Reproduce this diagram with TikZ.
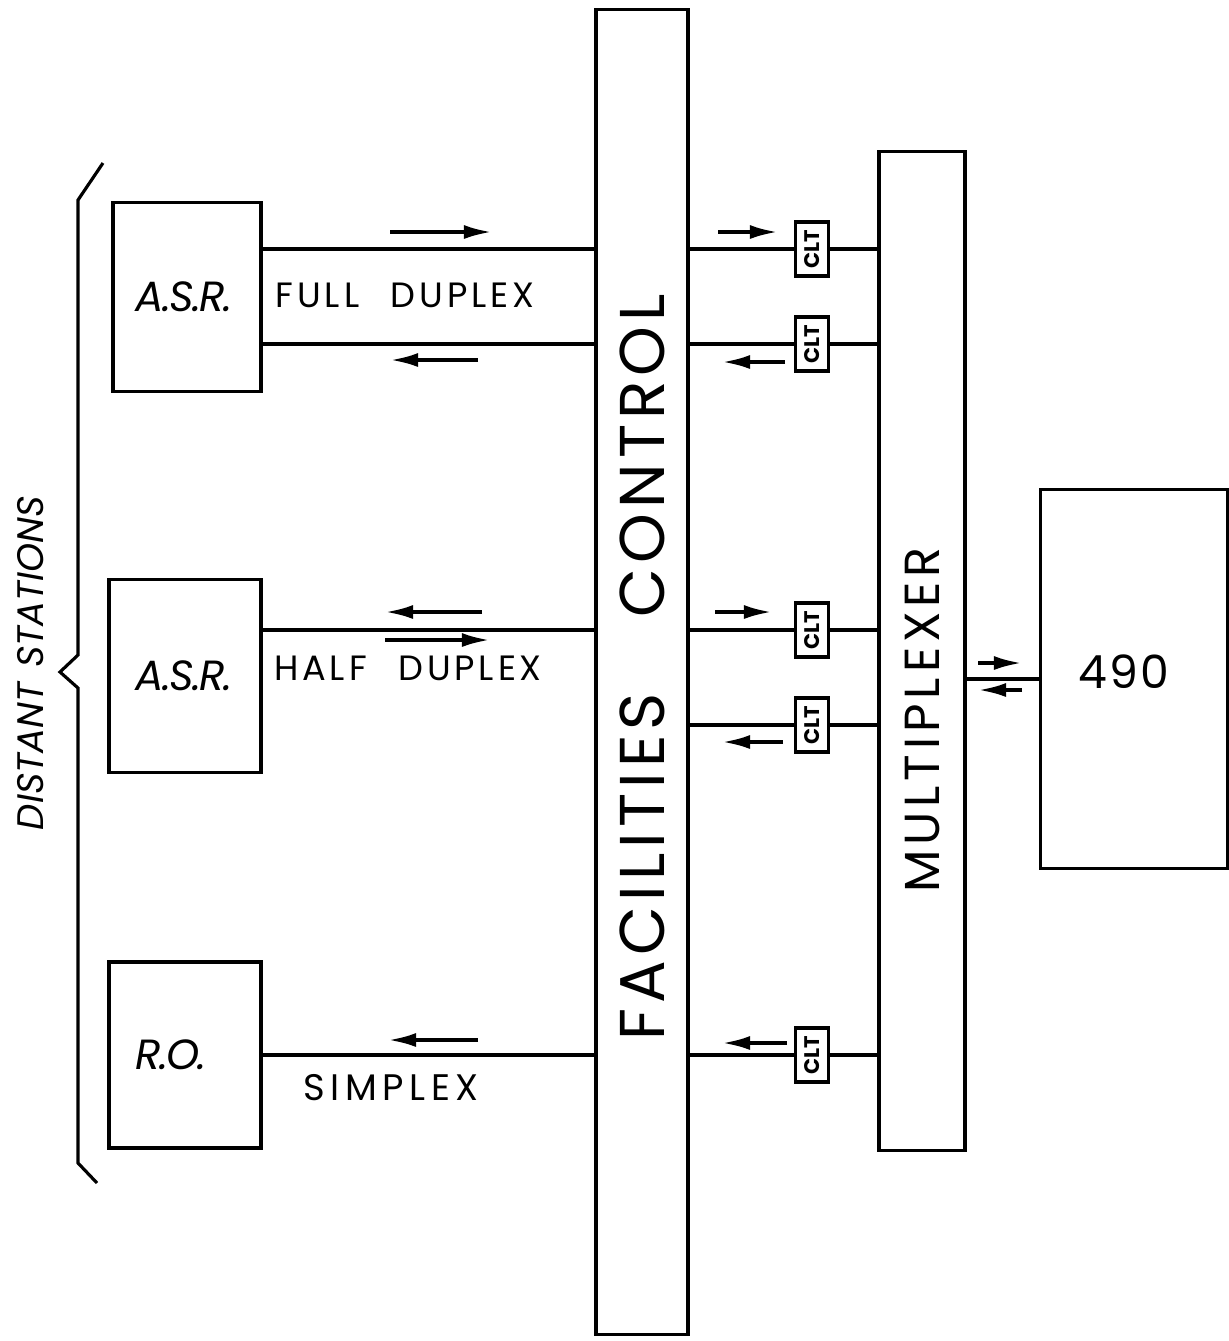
\documentclass[tikz,border=0pt]{standalone}
\usepackage{fontspec}
\setsansfont{Poppins}
\usetikzlibrary{arrows.meta,positioning,calc}

\tikzset{
  unit/.style={draw, line width=0.9pt, inner sep=0pt},
  station/.style={unit},
  clt/.style={unit, rotate=90, minimum width=0.54cm, minimum height=0.33cm,
    font=\sffamily\bfseries\fontsize{6}{6}\selectfont},
  wire/.style={line width=0.9pt},
  flow/.style={-{Latex[length=8pt,width=4pt]}, line width=1.1pt},
  lettering/.style={font=\sffamily\fontsize{10}{10}\selectfont\addfontfeature{LetterSpace=11}},
  handname/.style={font=\sffamily\itshape\fontsize{12}{12}\selectfont\addfontfeature{LetterSpace=-4}}
}

\begin{document}
\begin{tikzpicture}[x=0.01cm,y=-0.01cm]
\useasboundingbox (0,0) rectangle (1229,1341);
% Bars
\node[unit, minimum width=0.92cm, minimum height=13.25cm] (fc) at (642,672) {};
\node[unit, minimum width=0.86cm, minimum height=9.98cm] (mux) at (922,651) {};
\node[unit, minimum width=1.87cm, minimum height=3.78cm] (cpu) at (1134,679) {};
\node[rotate=90, font=\sffamily\fontsize{18}{18}\selectfont\addfontfeature{LetterSpace=8}] (fclabel) at (642,667) {FACILITIES\hspace{1.2em}CONTROL};
\node[rotate=90, font=\sffamily\fontsize{14}{14}\selectfont\addfontfeature{LetterSpace=10}] (muxlabel) at (922,720) {MULTIPLEXER};
\node[font=\sffamily\fontsize{13}{13}\selectfont\addfontfeature{LetterSpace=5}] (cpulabel) at (1124,672) {490};
% Distant stations
\node[station, minimum width=1.48cm, minimum height=1.89cm] (asr1) at (187,297) {};
\node[station, minimum width=1.52cm, minimum height=1.93cm] (asr2) at (185,676) {};
\node[station, minimum width=1.52cm, minimum height=1.86cm] (ro) at (185,1055) {};
\node[handname] at (184,297) {A.S.R.};
\node[handname] at (184,676) {A.S.R.};
\node[handname] at (171,1055) {R.O.};
% CLT units
\node[clt] (clt1) at (812,249) {CLT};
\node[clt] (clt2) at (812,344) {CLT};
\node[clt] (clt3) at (812,630) {CLT};
\node[clt] (clt4) at (812,725) {CLT};
\node[clt] (clt5) at (812,1055) {CLT};
\foreach \c in {clt1,clt2,clt3,clt4,clt5} {
  \draw[wire] (fc.east |- \c) -- (\c) -- (\c -| mux.west);
}
% Lines to the stations
\draw[wire] (asr1.east |- clt1) -- (fc.west |- clt1);
\draw[wire] (asr1.east |- clt2) -- (fc.west |- clt2);
\draw[wire] (asr2.east |- clt3) -- (fc.west |- clt3);
\draw[wire] (ro.east |- clt5) -- (fc.west |- clt5);
\draw[wire] (mux.east |- cpu) -- (cpu);
\node[lettering] at (405,295) {FULL\hspace{0.9em}DUPLEX};
\node[lettering] at (408,668) {HALF\hspace{0.9em}DUPLEX};
\node[lettering, font=\sffamily\fontsize{10.5}{10.5}\selectfont\addfontfeature{LetterSpace=15}] at (391,1088) {SIMPLEX};
% Direction arrows
\draw[flow] (390,232) -- (492,232);
\draw[flow] (478,360) -- (390,360);
\draw[flow] (482,612) -- (385,612);
\draw[flow] (385,640) -- (490,640);
\draw[flow] (478,1040) -- (388,1040);
\draw[flow] (718,232) -- (778,232);
\draw[flow] (785,362) -- (722,362);
\draw[flow] (715,612) -- (772,612);
\draw[flow] (783,742) -- (722,742);
\draw[flow] (787,1043) -- (722,1043);
\draw[flow] (978,663) -- (1022,663);
\draw[flow] (1022,690) -- (978,690);
% Brace
\draw[wire] (103,163) -- (78,200) -- (78,655) -- (60,672) -- (78,688) -- (78,1163) -- (97,1183);
\node[rotate=90, font=\sffamily\itshape\fontsize{10.5}{10.5}\selectfont] (dist) at (31,663) {DISTANT\hspace{0.4em}STATIONS};
\end{tikzpicture}
\end{document}
